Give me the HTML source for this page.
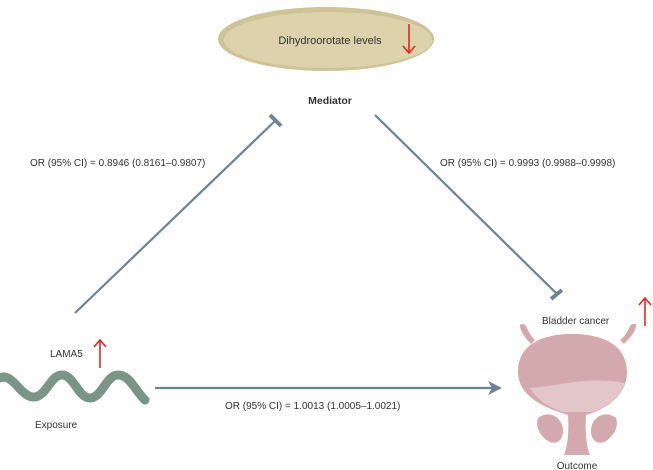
<!DOCTYPE html>
<html><head><style>body{margin:0;background:#fff}svg{display:block;font-family:"Liberation Sans",sans-serif}</style></head><body>
<svg width="653" height="470" viewBox="0 0 653 470">
<ellipse cx="326" cy="39" rx="108" ry="32" fill="#cdc397"/>
<ellipse cx="328" cy="40" rx="104" ry="28" fill="#dcd3ac"/>
<text x="330" y="44" font-size="11" text-anchor="middle" fill="#333">Dihydroorotate levels</text>
<line x1="409" y1="24" x2="409" y2="53" stroke="#e52521" stroke-width="1.6"/>
<polyline points="403,46 409,53 415,46" fill="none" stroke="#e52521" stroke-width="1.6"/>
<text x="330" y="104" font-size="10.5" font-weight="bold" text-anchor="middle" fill="#333">Mediator</text>
<g stroke="#6b8595" stroke-width="2.2">
<line x1="75" y1="313" x2="276" y2="120"/>
<line x1="270" y1="115" x2="281" y2="126" stroke-width="4"/>
<line x1="375" y1="115" x2="557" y2="294"/>
<line x1="551" y1="299" x2="562" y2="290" stroke-width="4"/>
<line x1="155" y1="388" x2="495" y2="388"/>
</g>
<polygon points="502,388 488,381 492,388 488,395" fill="#6b8595"/>
<text x="30" y="166" font-size="10" fill="#333">OR (95% CI) = 0.8946 (0.8161–0.9807)</text>
<text x="440" y="166" font-size="10" fill="#333">OR (95% CI) = 0.9993 (0.9988–0.9998)</text>
<text x="225" y="409" font-size="10" fill="#333">OR (95% CI) = 1.0013 (1.0005–1.0021)</text>
<path d="M0,378 C12,372 20,396 33,397 C46,398 50,375 62,375 C74,375 78,398 90,398 C102,398 106,375 118,375 C130,375 136,392 145,400" fill="none" stroke="#7b9488" stroke-width="9" stroke-linecap="round"/>
<text x="50" y="357" font-size="10" fill="#333">LAMA5</text>
<line x1="100" y1="340" x2="100" y2="368" stroke="#e52521" stroke-width="1.6"/>
<polyline points="94,347 100,340 106,347" fill="none" stroke="#e52521" stroke-width="1.6"/>
<text x="35" y="428" font-size="10" fill="#333">Exposure</text>
<text x="542" y="324" font-size="10" fill="#333">Bladder cancer</text>
<line x1="645" y1="298" x2="645" y2="326" stroke="#e52521" stroke-width="1.6"/>
<polyline points="639,305 645,298 651,305" fill="none" stroke="#e52521" stroke-width="1.6"/>
<g fill="#d4a9ad">
<path d="M520,327 C519,323 524,323 526,326 C529,333 532,337 535,340 L531,344 C527,340 522,334 520,327Z"/>
<path d="M636,327 C637,323 632,323 630,326 C627,333 624,337 620,340 L624,344 C628,340 634,334 636,327Z"/>
<path d="M572,334 C610,334 627,350 627,372 C627,394 610,406 592,413 L586,415 C585,430 586,445 590,455 L564,455 C568,445 569,430 568,415 L562,413 C540,406 518,394 518,372 C518,350 534,334 572,334Z"/>
<path d="M538,418 C548,410 562,416 563,430 C563,442 555,445 548,441 C540,436 535,426 538,418Z"/>
<path d="M616,418 C606,410 592,416 591,430 C591,442 599,445 606,441 C614,436 619,426 616,418Z"/>
</g>
<path d="M530,388 C560,386 585,376 625,383 C622,396 608,406 592,412 L562,412 C547,406 535,398 530,388Z" fill="#e3c6c8"/>
<text x="577" y="469" font-size="10" text-anchor="middle" fill="#333">Outcome</text>
</svg>
</body></html>
